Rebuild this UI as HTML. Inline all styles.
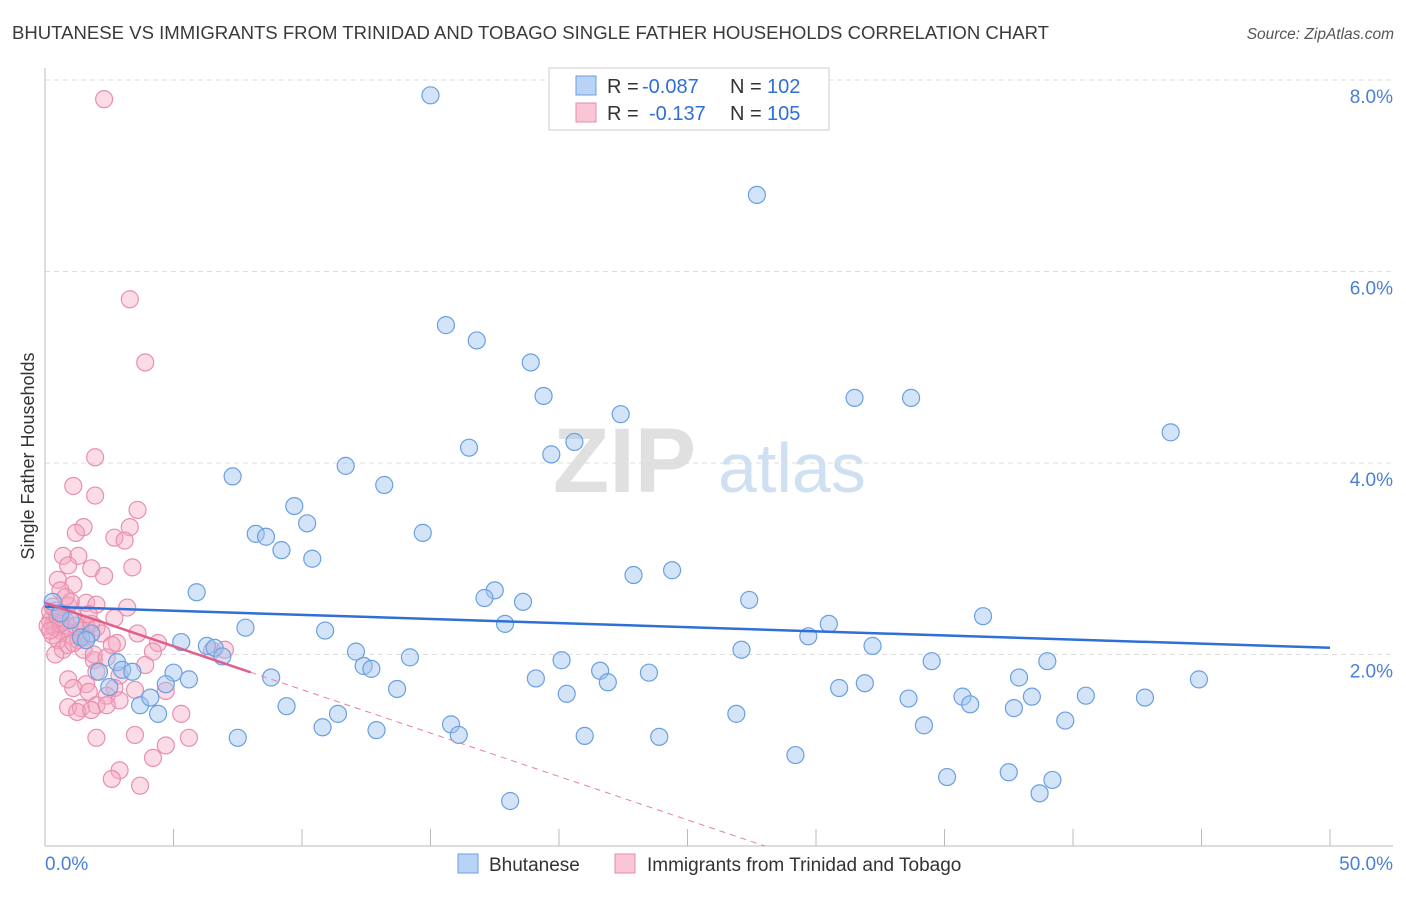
<!DOCTYPE html>
<html><head><meta charset="utf-8"><style>
body{margin:0;background:#fff;font-family:"Liberation Sans",sans-serif;}
svg text{font-family:"Liberation Sans",sans-serif;}
</style></head><body>
<svg id="chart" width="1406" height="892" xmlns="http://www.w3.org/2000/svg">
<text x="12" y="39" font-size="18.5" fill="#3a3a3a" textLength="1037" lengthAdjust="spacingAndGlyphs">BHUTANESE VS IMMIGRANTS FROM TRINIDAD AND TOBAGO SINGLE FATHER HOUSEHOLDS CORRELATION CHART</text>
<text x="1394" y="39" font-size="15.5" fill="#555" font-style="italic" text-anchor="end">Source: ZipAtlas.com</text>
<g>
<text x="553" y="492" font-size="92" fill="#e0e0e0" font-family="Liberation Serif" font-weight="bold">ZIP</text>
<text x="718" y="492" font-size="70" fill="#d0e0f3">atlas</text>
</g>
<g id="grid"></g>
<g id="axes"></g>
<g id="marks"></g>
<text transform="translate(34,456) rotate(-90)" font-size="18" fill="#333" text-anchor="middle">Single Father Households</text>
<g>
<rect x="549" y="68" width="280" height="62" fill="#fff" stroke="#ccc"/>
<rect x="576" y="76" width="20" height="19" fill="#b8d3f5" stroke="#6a9fe0"/>
<rect x="576" y="103" width="20" height="19" fill="#f9c6d6" stroke="#e68aa8"/>
<text x="607" y="93" font-size="20" fill="#333">R =</text>
<text x="642" y="93" font-size="20" fill="#2f6fd6">-0.087</text>
<text x="730" y="93" font-size="20" fill="#333">N =</text>
<text x="767" y="93" font-size="20" fill="#2f6fd6">102</text>
<text x="607" y="120" font-size="20" fill="#333">R =</text>
<text x="649" y="120" font-size="20" fill="#2f6fd6">-0.137</text>
<text x="730" y="120" font-size="20" fill="#333">N =</text>
<text x="767" y="120" font-size="20" fill="#2f6fd6">105</text>
</g>
<g>
<rect x="458" y="854" width="20" height="19" fill="#b8d3f5" stroke="#6a9fe0"/>
<text x="489" y="871" font-size="19" fill="#333">Bhutanese</text>
<rect x="615" y="854" width="20" height="19" fill="#f9c6d6" stroke="#e68aa8"/>
<text x="647" y="871" font-size="19" fill="#333">Immigrants from Trinidad and Tobago</text>
</g>
</svg>
<script>
const xTicks=[0,5,10,15,20,25,30,35,40,45,50];
const yTicks=[2,4,6,8];
const yTickLabels=["2.0%","4.0%","6.0%","8.0%"];
const xEndLabels=["0.0%","50.0%"];
const blueX=[15.0,27.7,15.6,16.8,18.9,19.4,22.4,20.6,31.5,33.7,43.8,16.5,19.7,11.7,7.3,13.2,9.7,10.2,14.7,8.2,8.6,9.2,10.4,24.4,22.9,5.9,17.5,17.1,18.6,27.4,36.5,17.9,30.5,29.7,10.9,7.8,5.3,6.3,6.6,6.9,32.2,27.1,12.1,14.2,20.1,34.5,39.0,12.4,12.7,21.6,23.5,37.9,44.9,19.1,21.9,8.8,5.0,5.6,4.7,13.7,30.9,31.9,20.3,38.4,40.5,42.8,33.6,35.7,36.0,37.7,9.4,11.4,26.9,4.4,39.7,10.8,15.8,34.2,12.9,16.1,21.0,23.9,7.5,29.2,35.1,37.5,39.2,38.7,18.1,0.3,1.0,1.4,1.8,2.1,2.8,3.0,3.4,2.5,3.7,4.1,0.6,1.6];
const blueY=[7.84,6.80,5.44,5.28,5.05,4.70,4.51,4.22,4.68,4.68,4.32,4.16,4.09,3.97,3.86,3.77,3.55,3.37,3.27,3.26,3.23,3.09,3.00,2.88,2.83,2.65,2.67,2.59,2.55,2.57,2.40,2.32,2.32,2.19,2.25,2.28,2.13,2.09,2.07,1.98,2.09,2.05,2.03,1.97,1.94,1.93,1.93,1.88,1.85,1.83,1.81,1.76,1.74,1.75,1.71,1.76,1.81,1.74,1.69,1.64,1.65,1.70,1.59,1.56,1.57,1.55,1.54,1.56,1.48,1.44,1.46,1.38,1.38,1.38,1.31,1.24,1.27,1.26,1.21,1.16,1.15,1.14,1.13,0.95,0.72,0.77,0.69,0.55,0.47,2.55,2.36,2.18,2.22,1.82,1.92,1.84,1.82,1.66,1.47,1.55,2.43,2.15];
const pinkX=[2.3,3.3,3.9,1.95,1.1,1.95,3.6,1.5,3.3,1.2,2.7,3.1,0.7,1.3,0.9,1.8,3.4,2.3,0.5,1.1,0.6,1.6,2.0,3.2,0.9,0.4,2.7,1.6,3.6,2.8,4.4,4.2,6.5,7.0,1.9,3.9,2.0,2.9,0.9,1.6,2.7,3.5,4.7,1.1,1.7,2.4,2.9,2.0,0.9,2.4,1.4,1.25,1.8,5.3,2.0,3.5,5.6,4.7,4.2,2.9,2.6,3.7,0.2,0.3,0.4,0.5,0.6,0.3,0.8,0.9,1.0,1.1,0.2,0.5,0.7,1.2,1.4,1.6,1.8,2.0,0.4,0.9,1.3,1.5,0.1,0.6,1.7,2.2,0.3,1.0,0.8,1.9,2.4,2.6,0.5,0.2,1.1];
const pinkY=[7.8,5.71,5.05,4.06,3.76,3.66,3.51,3.33,3.33,3.27,3.22,3.19,3.03,3.03,2.93,2.9,2.91,2.82,2.78,2.73,2.67,2.54,2.52,2.49,2.51,2.46,2.38,2.31,2.22,2.12,2.12,2.03,2.04,2.05,1.94,1.89,1.82,1.78,1.74,1.69,1.65,1.63,1.62,1.65,1.61,1.57,1.52,1.47,1.45,1.47,1.44,1.40,1.42,1.38,1.13,1.16,1.13,1.05,0.92,0.79,0.70,0.63,2.35,2.3,2.28,2.4,2.25,2.2,2.35,2.3,2.2,2.4,2.45,2.15,2.05,2.3,2.25,2.18,2.32,2.28,2.0,2.1,2.15,2.05,2.3,2.32,2.42,2.22,2.5,2.55,2.6,2.0,1.97,2.1,2.38,2.25,2.12];
const blueTrend=[2.50,2.07];
const pinkTrend=[2.54,-0.0907];
const NS="http://www.w3.org/2000/svg";
const xs=v=>45+v*25.7;
const ys=v=>846-v*95.75;
function mk(tag,attrs,parent){const e=document.createElementNS(NS,tag);for(const k in attrs)e.setAttribute(k,attrs[k]);parent.appendChild(e);return e;}
const grid=document.getElementById('grid'),axes=document.getElementById('axes'),marks=document.getElementById('marks');
yTicks.forEach((t,i)=>{
 const l=mk('line',{x1:45,x2:1393,y1:ys(t),y2:ys(t),stroke:'#ddd','stroke-dasharray':'5,4'},grid);
 
 
 const tx=mk('text',{x:1393,y:ys(t)+23,'font-size':19,fill:'#4a7fd6','text-anchor':'end'},axes);
 tx.textContent=yTickLabels[i];
 
 
});
mk('line',{x1:45,x2:45,y1:68,y2:846,stroke:'#bbb'},axes);
mk('line',{x1:45,x2:1393,y1:846,y2:846,stroke:'#bbb'},axes);
xTicks.forEach(t=>{const l=mk('line',{x1:xs(t),x2:xs(t),y1:829,y2:846,stroke:'#bbb'},axes);
 
 });
const x0=mk('text',{x:45,y:870,'font-size':19,fill:'#4a7fd6'},axes);x0.textContent=xEndLabels[0];


const x1=mk('text',{x:1393,y:870,'font-size':19,fill:'#4a7fd6','text-anchor':'end'},axes);x1.textContent=xEndLabels[1];


pinkX.forEach((x,i)=>{const c=mk('circle',{cx:xs(x),cy:ys(pinkY[i]),r:8.5,fill:'rgba(245,165,192,0.4)',stroke:'#e88fae','stroke-width':1.2},marks);
 
 });
blueX.forEach((x,i)=>{const c=mk('circle',{cx:xs(x),cy:ys(blueY[i]),r:8.5,fill:'rgba(160,196,240,0.45)',stroke:'#6a9fe0','stroke-width':1.2},marks);
 
 });
const bt=mk('line',{x1:xs(0),y1:ys(blueTrend[0]),x2:xs(50),y2:ys(blueTrend[1]),stroke:'#2f6fd6','stroke-width':2.5},marks);


const pe=-pinkTrend[0]/pinkTrend[1];
const pd=mk('line',{x1:xs(8),y1:ys(pinkTrend[0]+8*pinkTrend[1]),x2:xs(pe),y2:ys(0),stroke:'#e8809f','stroke-width':1,'stroke-dasharray':'6,5'},marks);


const ps=mk('line',{x1:xs(0),y1:ys(pinkTrend[0]),x2:xs(8),y2:ys(pinkTrend[0]+8*pinkTrend[1]),stroke:'#e0608a','stroke-width':2.5},marks);


</script>
</body></html>
